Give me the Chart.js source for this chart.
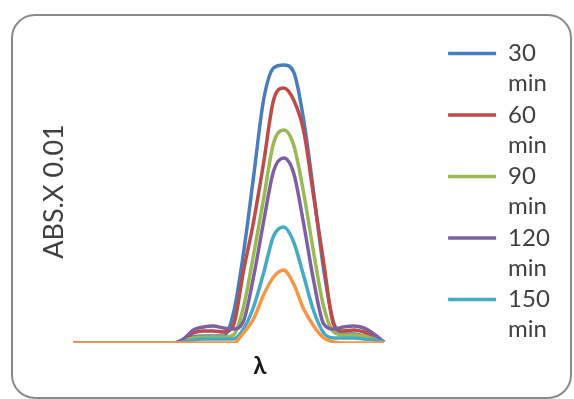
<!DOCTYPE html>
<html>
<head>
<meta charset="utf-8">
<script src="https://cdn.jsdelivr.net/npm/chart.js@4.4.0/dist/chart.umd.min.js"></script>
<style>
    html, body { margin: 0; padding: 0; background: #ffffff; }
    #wrap { position: relative; width: 574px; height: 399px; overflow: hidden; }
    #frame {
        position: absolute; left: 11px; top: 14px; width: 557px; height: 381px;
        border: 2px solid #8a8a8a; border-radius: 24px; pointer-events: none;
    }
    canvas { position: absolute; left: 0; top: 0; }
</style>
</head>
<body>
<div id="wrap">
    <canvas id="chart" width="574" height="399"></canvas>
    <div id="frame"></div>
</div>
<script>
// wavelength positions (no tick labels shown on the original)
const lambda = [0, 1, 2, 3, 4, 5, 6, 7, 8, 9, 10, 11, 12, 13, 14, 15,
    16, 17, 18, 19, 20, 21, 22, 23, 24, 25, 26, 27, 28, 29, 30, 31];

// absorbance (x 0.01)
const min30 = [0, 0, 0, 0, 0, 0, 0, 0, 0, 0, 0, 0.02, 0.06, 0.07, 0.07, 0.07,
    0.30, 0.90, 1.66, 2.43, 2.75, 2.78, 2.71, 2.23, 1.50, 0.73, 0.20, 0.09, 0.09, 0.07, 0.05, 0.01];
const min60 = [0, 0, 0, 0, 0, 0, 0, 0, 0, 0, 0, 0.03, 0.10, 0.12, 0.12, 0.11,
    0.18, 0.72, 1.21, 1.80, 2.43, 2.55, 2.43, 2.12, 1.46, 0.80, 0.18, 0.12, 0.13, 0.11, 0.07, 0.01];
const min90 = [0, 0, 0, 0, 0, 0, 0, 0, 0, 0, 0, 0.02, 0.05, 0.06, 0.06, 0.06,
    0.08, 0.36, 0.88, 1.44, 2.00, 2.13, 1.98, 1.50, 0.90, 0.36, 0.11, 0.08, 0.08, 0.07, 0.04, 0.01];
const min120 = [0, 0, 0, 0, 0, 0, 0, 0, 0, 0, 0, 0.04, 0.13, 0.16, 0.17, 0.15,
    0.14, 0.22, 0.66, 1.21, 1.72, 1.85, 1.70, 1.19, 0.62, 0.19, 0.14, 0.16, 0.17, 0.15, 0.09, 0.01];
const min150 = [0, 0, 0, 0, 0, 0, 0, 0, 0, 0, 0, 0.01, 0.03, 0.04, 0.04, 0.04,
    0.04, 0.14, 0.36, 0.70, 1.07, 1.16, 1.01, 0.67, 0.32, 0.10, 0.05, 0.05, 0.05, 0.04, 0.03, 0.01];
const min180 = [0, 0, 0, 0, 0, 0, 0, 0, 0, 0, 0, 0, 0, 0, 0, 0,
    0, 0.10, 0.24, 0.48, 0.66, 0.73, 0.59, 0.34, 0.17, 0.05, 0.01, 0, 0, 0, 0, 0];

const seriesNames = [['30', 'min'], ['60', 'min'], ['90', 'min'], ['120', 'min'], ['150', 'min'], ['180', 'min']];
const seriesData = [min30, min60, min90, min120, min150, min180];
const colors = ['#4a7ebb', '#be4b48', '#98b954', '#7d60a0', '#46aac5', '#f79646'];

const textColor = '#404040';

new Chart(document.getElementById('chart'), {
    type: 'line',
    data: {
        labels: lambda,
        datasets: seriesData.map((values, i) => ({
            label: seriesNames[i],
            data: values,
            borderColor: colors[i],
            backgroundColor: colors[i],
            borderWidth: 3.5,
            pointRadius: 0,
            fill: false,
            cubicInterpolationMode: 'monotone',
            // later series sit on top, like the original
            order: seriesData.length - i
        }))
    },
    options: {
        responsive: false,
        animation: false,
        layout: {
            autoPadding: false,
            padding: { left: 34, top: 40, right: 17, bottom: 18.6 }
        },
        plugins: {
            tooltip: { enabled: false },
            legend: {
                position: 'right',
                align: 'start',
                labels: {
                    usePointStyle: true,
                    pointStyle: 'line',
                    pointStyleWidth: 48,
                    boxHeight: 3,
                    padding: 1.5,
                    color: textColor,
                    font: { family: 'Lato', size: 24, lineHeight: 1.25 },
                    // the 180 min entry is cut off in the original
                    filter: item => item.datasetIndex < 5,
                    sort: (a, b) => a.datasetIndex - b.datasetIndex
                }
            }
        },
        scales: {
            x: {
                type: 'linear',
                min: 0,
                max: 37.25,
                grid: { display: false, drawTicks: false },
                border: { display: false },
                ticks: { display: false },
                title: {
                    display: true,
                    text: 'λ',
                    color: '#1a1a1a',
                    font: { family: 'Lato', size: 24, weight: 'bold' },
                    padding: { top: 8.6, bottom: 0 }
                }
            },
            y: {
                min: 0,
                max: 3.03,
                grid: { display: false, drawTicks: false },
                border: { display: false },
                ticks: { display: false },
                title: {
                    display: true,
                    text: 'ABS.X 0.01',
                    color: textColor,
                    font: { family: 'Lato', size: 27 },
                    padding: { top: 4, bottom: 2.6 }
                }
            }
        }
    }
});
</script>
</body>
</html>
